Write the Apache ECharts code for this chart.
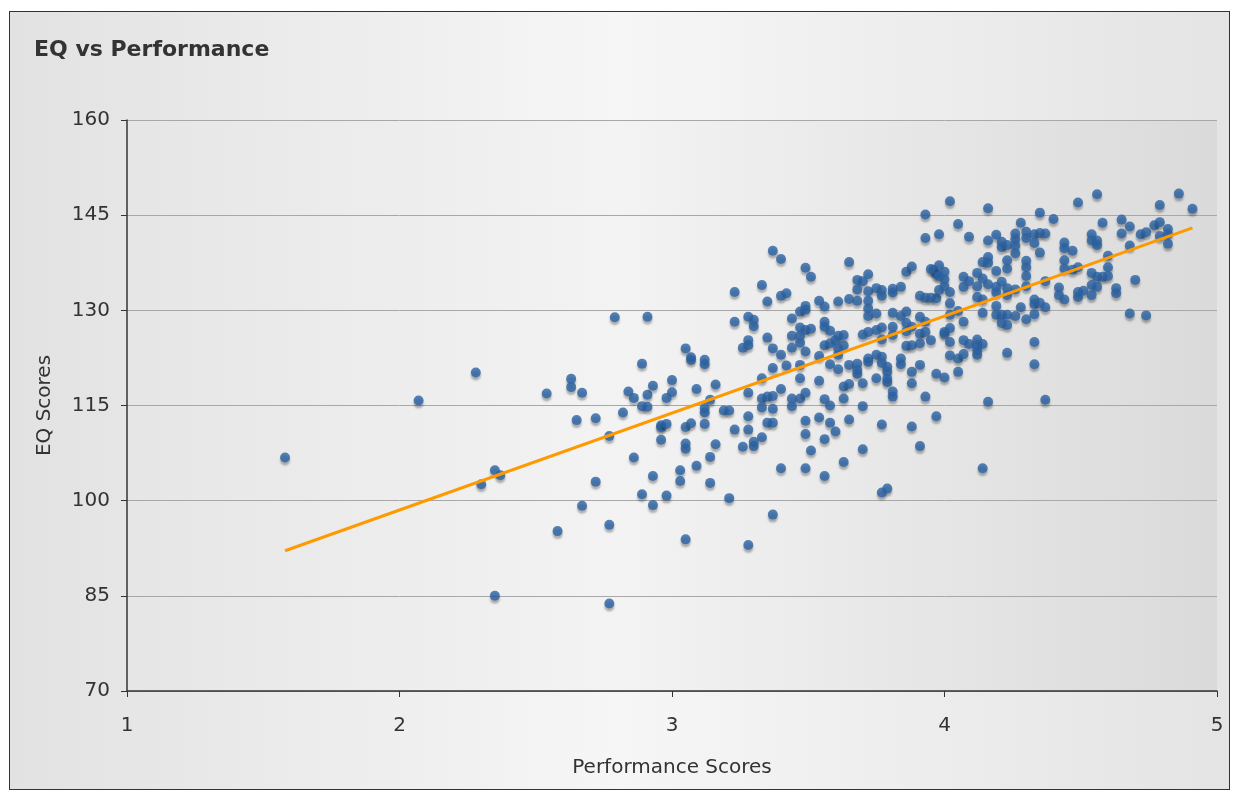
<!DOCTYPE html>
<html>
<head>
<meta charset="utf-8">
<script src="https://cdn.jsdelivr.net/npm/echarts@6/dist/echarts.min.js"></script>
<style>
  html, body { margin: 0; padding: 0; background: #ffffff; }
  .frame {
    position: absolute; left: 9px; top: 11px; width: 1219px; height: 777px;
    border: 1px solid #333;
    background: linear-gradient(to right, #e2e2e2 0%, #f6f6f6 50%, #e4e4e4 100%);
  }
  #chart { position: absolute; left: 0; top: 0; width: 1235px; height: 795px; }
</style>
</head>
<body>
<div class="frame"></div>
<div id="chart"></div>
<script>
// [performance score, EQ score]
const scores = [
  [1.58,106.8],[2.07,115.8],[2.28,120.2],[2.35,104.8],[2.30,102.6],[2.37,104.0],[2.35,85.0],
  [3.23,132.9],[3.23,128.2],[2.79,128.9],[2.91,129.0],[3.05,124.0],[3.07,122.6],[3.07,122.2],[3.12,122.2],
  [3.12,121.5],[2.89,121.6],[2.63,119.2],[2.63,117.9],[2.67,117.0],[2.54,116.9],[2.84,117.2],[2.86,116.2],
  [2.91,116.7],[2.93,118.1],[3.00,119.0],[3.00,117.1],[2.98,116.2],[3.09,117.6],[3.16,118.3],[3.14,115.9],
  [3.12,114.6],[3.12,113.9],[3.19,114.2],[3.21,114.2],[2.89,114.9],[2.91,114.8],[2.82,113.9],[2.65,112.7],
  [2.72,113.0],[2.96,111.9],[2.96,111.6],[2.98,112.1],[3.05,111.6],[3.07,112.2],[3.12,112.1],[3.23,111.2],
  [2.77,110.2],[2.96,109.6],[3.05,109.0],[3.05,108.2],[3.16,108.9],[2.86,106.8],[3.14,106.9],
  [3.09,105.5],[3.03,104.8],[2.93,103.9],[2.72,103.0],[3.03,103.1],[3.14,102.8],[2.89,101.0],[2.98,100.8],
  [2.93,99.3],[2.67,99.2],[3.21,100.4],[2.77,96.2],[2.58,95.2],[3.05,93.9],[3.28,93.0],[2.77,83.8],
  [3.37,139.4],[3.40,138.1],[3.65,137.6],[3.93,141.4],[3.49,136.7],[3.51,135.3],[3.72,135.7],[3.68,134.8],
  [3.70,134.6],[3.86,136.1],[3.88,136.9],[3.96,136.4],[3.97,135.7],[3.33,134.0],[3.68,133.3],[3.72,133.0],
  [3.75,133.5],[3.77,133.2],[3.77,132.3],[3.81,133.4],[3.84,133.7],[3.81,132.8],[3.42,132.7],[3.40,132.3],
  [3.35,131.4],[3.54,131.5],[3.61,131.4],[3.65,131.8],[3.68,131.5],[3.72,131.5],[3.91,132.3],[3.93,132.0],
  [3.95,132.0],[3.97,131.9],[3.49,130.7],[3.56,130.6],[3.47,129.8],[3.49,130.1],[3.72,130.3],[3.72,129.1],
  [3.75,129.5],[3.81,129.6],[3.86,129.8],[3.84,129.1],[3.91,129.0],[3.28,129.0],[3.30,128.5],[3.30,127.5],
  [3.44,128.7],[3.56,128.2],[3.56,127.4],[3.58,126.8],[3.47,127.3],[3.49,126.9],[3.51,127.1],[3.86,128.0],
  [3.88,127.4],[3.93,128.2],[3.81,127.4],[3.77,127.3],[3.75,126.9],[3.72,126.6],[3.70,126.2],[3.81,126.1],
  [3.86,126.7],[3.91,126.3],[3.93,126.6],[3.95,125.3],[3.35,125.7],[3.44,126.0],[3.47,126.0],[3.61,126.0],
  [3.63,126.1],[3.60,125.3],[3.28,125.3],[3.28,124.5],[3.47,124.9],[3.56,124.5],[3.58,124.8],[3.63,124.5],
  [3.77,125.4],[3.26,124.1],[3.37,124.0],[3.44,124.1],[3.61,124.0],[3.86,124.4],[3.88,124.5],[3.91,124.8],
  [3.40,123.0],[3.49,123.5],[3.54,122.8],[3.61,123.0],[3.72,122.4],[3.75,123.0],[3.77,122.7],[3.72,121.9],
  [3.77,121.7],[3.79,121.1],[3.79,120.3],[3.84,122.4],[3.84,121.5],[3.42,121.3],[3.37,120.9],[3.47,121.4],
  [3.58,121.5],[3.61,120.7],[3.65,121.4],[3.68,121.6],[3.68,120.6],[3.68,120.0],[3.75,119.3],[3.79,119.2],
  [3.79,118.7],[3.88,120.3],[3.91,121.4],[3.97,120.0],[3.33,119.3],[3.47,119.3],[3.54,118.9],[3.70,118.5],
  [3.88,118.5],[3.40,117.6],[3.63,118.0],[3.65,118.4],[3.81,117.2],[3.28,117.0],[3.33,116.1],[3.35,116.4],
  [3.37,116.5],[3.44,116.1],[3.47,116.1],[3.49,117.0],[3.63,116.1],[3.81,116.4],[3.93,116.4],
  [3.56,116.0],[3.70,114.9],[3.33,114.7],[3.37,114.5],[3.44,114.9],[3.58,115.0],[3.97,113.3],[3.28,113.3],
  [3.35,112.3],[3.37,112.3],[3.49,112.6],[3.54,113.1],[3.58,112.3],[3.65,112.8],[3.77,112.0],[3.88,111.7],
  [3.28,111.2],[3.60,110.9],[3.49,110.5],[3.33,110.0],[3.30,109.3],[3.30,108.6],[3.26,108.5],[3.56,109.7],
  [3.91,108.6],[3.51,107.9],[3.70,108.1],[3.63,106.1],[3.40,105.1],[3.49,105.1],[3.56,103.9],[3.79,101.9],
  [3.77,101.3],[3.37,97.8],
  [4.02,147.2],[4.16,146.1],[4.35,145.4],[4.40,144.4],[4.05,143.6],[4.28,143.8],[3.98,142.0],[4.09,141.6],
  [4.19,141.9],[4.16,141.0],[4.26,142.1],[4.26,141.2],[4.30,142.4],[4.33,142.0],[4.35,142.2],[4.37,142.1],
  [4.30,141.4],[4.33,140.6],[4.21,140.8],[4.21,140.0],[4.23,140.3],[4.26,140.2],[4.44,140.7],[4.44,139.8],
  [4.26,139.0],[4.35,139.1],[4.16,138.4],[4.14,137.6],[4.16,137.5],[4.23,137.9],[4.30,137.8],[4.44,137.9],
  [4.30,136.8],[4.23,136.6],[4.44,136.6],[3.98,137.1],[3.95,136.5],[4.00,136.1],[3.98,135.4],[4.19,136.2],
  [4.12,135.9],[4.30,135.4],[4.00,134.9],[4.07,135.3],[4.14,135.0],[4.09,134.6],[4.21,134.5],[4.12,133.8],
  [4.16,134.1],[4.19,133.7],[4.07,133.7],[4.00,133.8],[3.98,133.2],[4.02,132.9],[4.23,133.5],[4.26,133.3],
  [4.30,133.8],[4.37,134.6],[4.19,132.8],[4.12,132.1],[4.14,131.7],[4.23,132.4],[4.42,133.6],[4.42,132.4],
  [4.44,131.7],[4.02,131.1],[4.33,131.7],[4.33,131.0],[4.35,131.2],[4.37,130.5],[4.19,130.7],[4.28,130.5],
  [4.05,129.9],[4.02,129.3],[4.14,129.6],[4.19,129.3],[4.21,129.3],[4.23,129.3],[4.26,129.1],[4.33,129.4],
  [4.30,128.6],[4.07,128.2],[4.21,128.0],[4.23,127.7],[4.00,126.6],[4.02,127.2],[4.00,126.3],
  [4.02,125.0],[4.07,125.3],[4.09,124.7],[4.12,125.4],[4.12,124.5],[4.14,124.7],[4.12,123.7],[4.12,123.0],
  [4.02,122.9],[4.05,122.4],[4.07,123.1],[4.23,123.3],[4.33,125.0],[4.33,121.5],[4.00,119.4],[4.05,120.3],
  [4.16,115.6],[4.37,115.9],[4.14,105.1],[3.93,145.1],
  [4.49,147.0],[4.56,148.3],[4.86,148.4],[4.79,146.6],[4.91,146.0],[4.58,143.8],[4.65,144.3],[4.68,143.2],
  [4.65,142.1],[4.72,142.0],[4.74,142.3],[4.77,143.4],[4.79,143.9],[4.82,142.8],[4.79,141.7],[4.82,142.0],
  [4.82,140.5],[4.54,142.0],[4.54,141.0],[4.56,141.0],[4.56,140.3],[4.47,139.4],[4.68,140.2],[4.60,138.6],
  [4.47,136.4],[4.49,136.8],[4.60,136.8],[4.54,135.9],[4.56,135.3],[4.58,135.3],[4.60,135.4],[4.70,134.8],
  [4.54,134.0],[4.56,133.7],[4.63,133.5],[4.63,132.7],[4.49,132.9],[4.51,133.1],[4.49,132.1],[4.54,132.4],
  [4.68,129.5],[4.74,129.2]
];

// trend line end points
const trendLine = [[1.58, 92.1], [4.91, 143.0]];

const xTicks = { min: 1, max: 5, interval: 1 };
const yTicks = { min: 70, max: 160, interval: 15 };

const chart = echarts.init(document.getElementById("chart"), null, { renderer: "canvas" });

const fontFamily = "'DejaVu Sans', sans-serif";

chart.setOption({
  animation: false,
  backgroundColor: "transparent",
  title: {
    text: "EQ vs Performance",
    left: 29,
    top: 34,
    textStyle: { fontFamily, fontSize: 22, fontWeight: "bold", color: "#333" },
  },
  grid: {
    left: 127,
    right: 18,
    top: 120,
    bottom: 104,
    show: true,
    borderWidth: 0,
    backgroundColor: new echarts.graphic.LinearGradient(0, 0, 1, 0, [
      { offset: 0, color: "#e6e6e6" },
      { offset: 0.45, color: "#f3f3f3" },
      { offset: 1, color: "#dadada" },
    ]),
  },
  xAxis: {
    type: "value",
    min: xTicks.min,
    max: xTicks.max,
    interval: xTicks.interval,
    name: "Performance Scores",
    nameLocation: "middle",
    nameGap: 67,
    nameTextStyle: { fontFamily, fontSize: 20, color: "#333" },
    axisLine: { show: true, onZero: false, lineStyle: { color: "#333", width: 1.5 } },
    axisTick: { show: true, length: 6, lineStyle: { color: "#333" } },
    axisLabel: { fontFamily, fontSize: 20, color: "#333", margin: 25 },
    splitLine: { show: false },
  },
  yAxis: {
    type: "value",
    min: yTicks.min,
    max: yTicks.max,
    interval: yTicks.interval,
    name: "EQ Scores",
    nameLocation: "middle",
    nameGap: 72,
    nameTextStyle: { fontFamily, fontSize: 20, color: "#333" },
    axisLine: { show: true, onZero: false, lineStyle: { color: "#333", width: 1.5 } },
    axisTick: { show: true, length: 6, lineStyle: { color: "#333" } },
    axisLabel: { fontFamily, fontSize: 20, color: "#333", margin: 17 },
    splitLine: { show: true, lineStyle: { color: "#a8a8a8", width: 1 } },
  },
  series: [
    {
      name: "EQ",
      type: "scatter",
      data: scores,
      symbol: "circle",
      symbolSize: 10,
      itemStyle: {
        color: "#2a63a4",
        shadowColor: "rgba(0,0,0,0.35)",
        shadowBlur: 2,
        shadowOffsetY: 3,
      },
      z: 2,
    },
    {
      name: "Trend",
      type: "line",
      data: trendLine,
      symbol: "none",
      lineStyle: { color: "#ff9900", width: 3 },
      z: 3,
    },
  ],
});
</script>
</body>
</html>
